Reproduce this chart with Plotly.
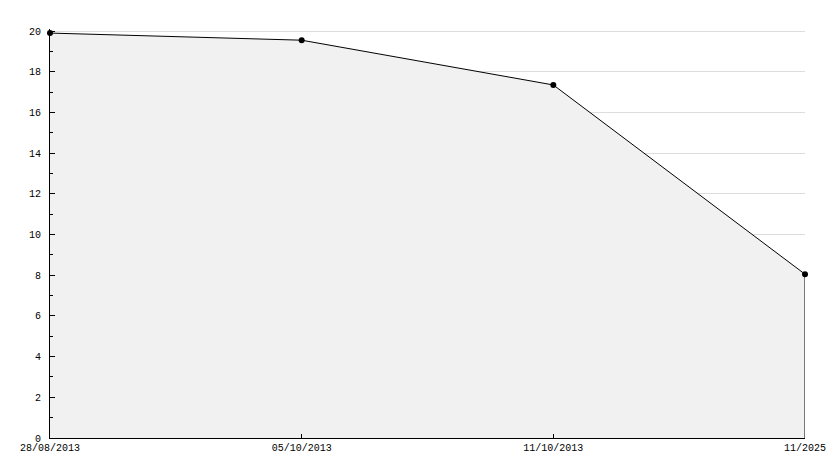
import plotly.graph_objects as go

categories = ["28/08/2013", "05/10/2013", "11/10/2013", "11/2025"]
values = [19.9, 19.55, 17.35, 8.05]
y_ticks = [0, 2, 4, 6, 8, 10, 12, 14, 16, 18, 20]

xpos = list(range(len(categories)))

fig = go.Figure()
fig.add_trace(go.Scatter(
    x=xpos, y=values, mode="lines+markers", fill="tozeroy",
    fillcolor="#f1f1f1",
    line=dict(color="black", width=1),
    marker=dict(color="black", size=6, symbol="circle"),
    hoverinfo="skip", showlegend=False, cliponaxis=False,
))
# right edge outline of the filled area
fig.add_trace(go.Scatter(
    x=[xpos[-1], xpos[-1]], y=[0, values[-1]], mode="lines",
    line=dict(color="black", width=1), showlegend=False, hoverinfo="skip",
    cliponaxis=False,
))

font = dict(family="Liberation Mono", size=10, color="black")
fig.update_layout(
    width=826, height=460,
    margin=dict(l=42, r=29, t=21, b=30, autoexpand=False),
    paper_bgcolor="white", plot_bgcolor="white",
    font=font,
    xaxis=dict(
        range=[0, 3], tickvals=xpos, ticktext=categories,
        showgrid=False, zeroline=False, automargin=False,
        showline=True, linecolor="black", linewidth=1,
        ticks="inside", ticklen=4, tickcolor="black",
        tickfont=font,
    ),
    yaxis=dict(
        range=[0, 20.1], tickvals=y_ticks, automargin=False,
        showgrid=True, gridcolor="#dddddd", gridwidth=1,
        zeroline=False,
        showline=True, linecolor="black", linewidth=1,
        ticks="inside", ticklen=5, tickcolor="black",
        ticklabelstandoff=6,
        minor=dict(dtick=1, ticks="inside", ticklen=3, tickcolor="black", showgrid=False),
        tickfont=font,
    ),
)
fig.write_html("out.html")
